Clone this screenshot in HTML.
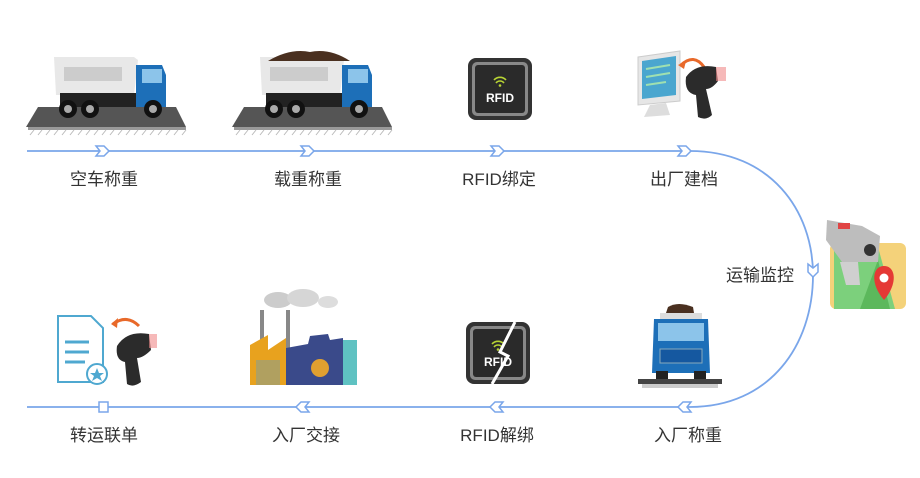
<!DOCTYPE html>
<html><head><meta charset="utf-8"><style>
html,body{margin:0;padding:0;background:#fff;}
svg{display:block}
text{font-family:"Liberation Sans","Noto Sans CJK SC",sans-serif;font-size:17px;fill:#333;}
</style></head><body>
<svg width="920" height="478" viewBox="0 0 920 478">
<defs>
<g id="chev"><path d="M-6,-5 L2,-5 L7,0 L2,5 L-6,5 L-2,0 Z" fill="#fff" stroke="#7aa6ea" stroke-width="1.5"/></g>
<g id="truck">
 <path d="M0,72 L12,52 L150,52 L160,72 Z" fill="#555"/>
 <rect x="2" y="72" width="158" height="3" fill="#999"/>
 <g stroke="#bbb" stroke-width="1">
 <path d="M4,80 l4,-5 M12,80 l4,-5 M20,80 l4,-5 M28,80 l4,-5 M36,80 l4,-5 M44,80 l4,-5 M52,80 l4,-5 M60,80 l4,-5 M68,80 l4,-5 M76,80 l4,-5 M84,80 l4,-5 M92,80 l4,-5 M100,80 l4,-5 M108,80 l4,-5 M116,80 l4,-5 M124,80 l4,-5 M132,80 l4,-5 M140,80 l4,-5 M148,80 l4,-5 M156,80 l4,-5"/></g>
 <path d="M28,2 L108,2 L112,5 L108,40 L30,40 Z" fill="#e8e8e8"/>
 <rect x="38" y="12" width="58" height="14" fill="#ccc"/>
 <rect x="34" y="38" width="80" height="14" fill="#222"/>
 <path d="M110,10 L136,10 L140,20 L140,52 L110,52 Z" fill="#1d6fb8"/>
 <rect x="116" y="14" width="20" height="14" fill="#8cc4ea"/>
 <circle cx="42" cy="54" r="9" fill="#111"/><circle cx="42" cy="54" r="4" fill="#aaa"/>
 <circle cx="64" cy="54" r="9" fill="#111"/><circle cx="64" cy="54" r="4" fill="#aaa"/>
 <circle cx="127" cy="54" r="9" fill="#111"/><circle cx="127" cy="54" r="4" fill="#aaa"/>
</g>
<g id="rfid">
 <rect x="0" y="0" width="64" height="62" rx="8" fill="#333"/>
 <rect x="4" y="4" width="56" height="54" rx="5" fill="#888"/>
 <rect x="7" y="7" width="50" height="48" rx="3" fill="#2a2a2a"/>
 <path d="M26,22 a8,8 0 0 1 12,0 M28,25 a5,5 0 0 1 8,0" fill="none" stroke="#b7d334" stroke-width="1.6"/>
 <circle cx="32" cy="27.5" r="1.3" fill="#b7d334"/>
 <text x="32" y="44" text-anchor="middle" style="font-size:12px;font-weight:bold;fill:#fff">RFID</text>
</g>
</defs>

<!-- path line -->
<path d="M27,151 L690,151 C770,151 813,210 813,275 C813,345 770,407 690,407 L27,407" fill="none" stroke="#7aa6ea" stroke-width="1.8"/>
<use href="#chev" x="102" y="151"/>
<use href="#chev" x="307" y="151"/>
<use href="#chev" x="497" y="151"/>
<use href="#chev" x="684" y="151"/>
<g transform="translate(813,270) rotate(90)"><use href="#chev"/></g>
<g transform="translate(685,407) rotate(180)"><use href="#chev"/></g>
<g transform="translate(497,407) rotate(180)"><use href="#chev"/></g>
<g transform="translate(303,407) rotate(180)"><use href="#chev"/></g>
<rect x="99" y="402" width="9" height="10" fill="#fff" stroke="#7aa6ea" stroke-width="1.5"/>

<!-- labels -->
<text x="104" y="185" text-anchor="middle">空车称重</text>
<text x="308" y="185" text-anchor="middle">载重称重</text>
<text x="499" y="185" text-anchor="middle">RFID绑定</text>
<text x="684" y="185" text-anchor="middle">出厂建档</text>
<text x="760" y="281" text-anchor="middle">运输监控</text>
<text x="104" y="441" text-anchor="middle">转运联单</text>
<text x="306" y="441" text-anchor="middle">入厂交接</text>
<text x="497" y="441" text-anchor="middle">RFID解绑</text>
<text x="688" y="441" text-anchor="middle">入厂称重</text>

<!-- icons top -->
<use href="#truck" x="26" y="55"/>
<use href="#truck" x="232" y="55"/>
<path d="M268,61 Q290,48 310,52 Q330,48 350,61 Z" fill="#4a3020"/>
<use href="#rfid" x="468" y="58"/>
<!-- computer + scanner -->
<g transform="translate(636,45)">
 <path d="M2,12 L44,6 L44,56 L2,60 Z" fill="#e6e6e6" stroke="#ccc"/>
 <path d="M6,16 L40,11 L40,50 L6,54 Z" fill="#4aa6cf"/>
 <path d="M10,24 L34,20 M10,32 L34,28 M10,40 L30,37" stroke="#9fe0b0" stroke-width="2"/>
 <path d="M14,60 L30,58 L34,70 L8,72 Z" fill="#ddd"/>
 <path d="M45,20 Q58,8 68,22" fill="none" stroke="#e8692a" stroke-width="3"/>
 <path d="M42,20 L50,16 L48,24 Z" fill="#e8692a"/>
 <path d="M50,32 Q60,18 80,22 L82,36 Q76,44 70,44 L76,70 Q70,76 62,72 L60,50 Q48,48 50,32 Z" fill="#2b2b2b"/>
 <rect x="80" y="22" width="10" height="14" fill="#f08a8a" opacity=".6"/>
</g>
<!-- camera + map -->
<g>
 <rect x="830" y="243" width="76" height="66" rx="6" fill="#f4d27a"/>
 <path d="M834,247 L878,247 L895,309 L834,309 Z" fill="#7cd07c"/>
 <path d="M860,309 L878,260 L890,309 Z" fill="#5cb85c"/>
 <path d="M884,300 C870,284 872,266 884,266 C896,266 898,284 884,300 Z" fill="#e53935"/>
 <circle cx="884" cy="278" r="4.5" fill="#fff"/>
 <path d="M827,220 L862,226 L880,236 L878,262 L842,262 L826,240 Z" fill="#bdbdbd"/>
 <rect x="838" y="223" width="12" height="6" fill="#e04545"/>
 <circle cx="870" cy="250" r="6" fill="#333"/>
 <path d="M840,262 L846,285 L860,285 L858,262 Z" fill="#cfcfcf"/>
</g>

<!-- icons bottom -->
<!-- document + scanner -->
<g transform="translate(55,302)">
 <path d="M3,14 L36,14 L48,26 L48,80 L3,80 Z" fill="#fff" stroke="#4fa8d0" stroke-width="2"/>
 <path d="M10,40 L34,40 M10,50 L34,50 M10,60 L30,60" stroke="#4fa8d0" stroke-width="3"/>
 <circle cx="42" cy="72" r="10" fill="#fff" stroke="#4fa8d0" stroke-width="2"/>
 <path d="M42,66 l2,5 5,0 -4,3 2,5 -5,-3 -5,3 2,-5 -4,-3 5,0Z" fill="#4fa8d0"/>
 <path d="M58,22 Q72,12 84,24" fill="none" stroke="#e8692a" stroke-width="3"/>
 <path d="M56,22 L63,16 L62,26 Z" fill="#e8692a"/>
 <path d="M62,44 Q72,28 94,32 L96,48 Q88,56 82,56 L86,80 Q78,86 72,82 L70,60 Q60,58 62,44 Z" fill="#2b2b2b"/>
 <rect x="94" y="32" width="8" height="14" fill="#f08a8a" opacity=".6"/>
</g>
<!-- factory -->
<g transform="translate(248,290)">
 <ellipse cx="30" cy="10" rx="14" ry="8" fill="#ccc"/><ellipse cx="55" cy="8" rx="16" ry="9" fill="#d6d6d6"/><ellipse cx="80" cy="12" rx="10" ry="6" fill="#ddd"/>
 <rect x="12" y="20" width="4" height="40" fill="#888"/><rect x="38" y="20" width="4" height="40" fill="#888"/>
 <path d="M2,95 L2,55 L20,45 L20,60 L38,48 L38,95 Z" fill="#e8a21e"/>
 <path d="M38,95 L38,58 L60,54 L62,46 L80,44 L82,50 L95,48 L95,95 Z" fill="#3a4a8a"/>
 <rect x="95" y="50" width="14" height="45" fill="#5fc2c2"/>
 <rect x="8" y="70" width="24" height="25" fill="#b0a060"/>
 <circle cx="72" cy="78" r="9" fill="#e0a030"/>
</g>
<!-- broken RFID -->
<use href="#rfid" x="466" y="322"/>
<path d="M515,322 L500,352 L508,356 L492,384" fill="none" stroke="#fff" stroke-width="3"/>
<!-- front truck -->
<g transform="translate(638,303)">
 <path d="M30,4 Q40,-2 55,4 L56,10 L28,10 Z" fill="#4a3020"/>
 <rect x="22" y="10" width="42" height="6" fill="#ddd"/>
 <path d="M16,16 L70,16 L72,70 L14,70 Z" fill="#1d6fb8"/>
 <rect x="20" y="20" width="46" height="18" fill="#8cc4ea"/>
 <rect x="22" y="46" width="42" height="14" fill="#1558a0" stroke="#8ab" stroke-width="1"/>
 <rect x="18" y="68" width="12" height="10" fill="#222"/><rect x="56" y="68" width="12" height="10" fill="#222"/>
 <rect x="0" y="76" width="84" height="5" fill="#444"/>
 <rect x="4" y="81" width="76" height="4" fill="#ccc"/>
</g>
</svg>
</body></html>
